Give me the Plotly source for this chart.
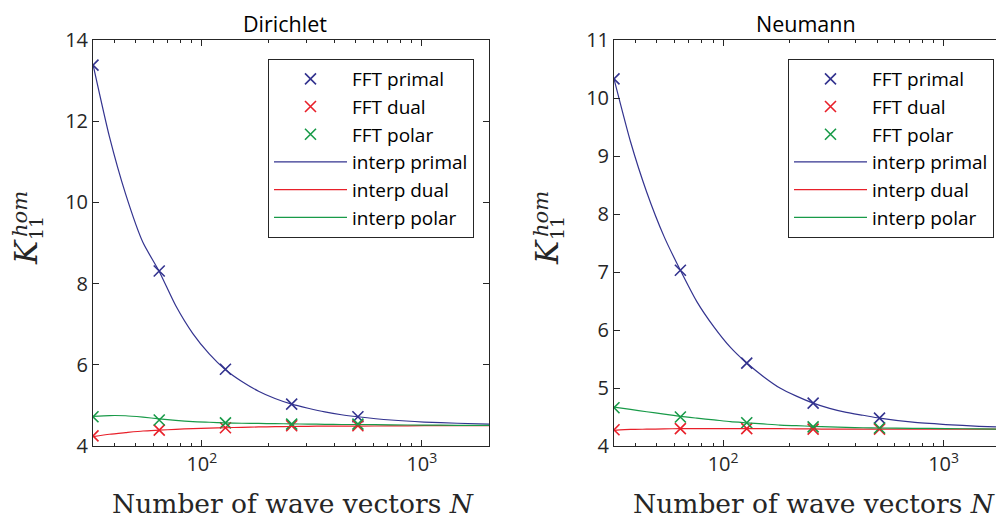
import plotly.graph_objects as go
from plotly.subplots import make_subplots
import math

# ---------------- data ----------------
N_pts = [32, 64, 128, 256, 512]

dir_primal = [13.38, 8.31, 5.89, 5.03, 4.72]
dir_dual = [4.25, 4.39, 4.45, 4.50, 4.50]
dir_polar = [4.72, 4.64, 4.57, 4.54, 4.54]

neu_primal = [10.33, 7.03, 5.43, 4.74, 4.48]
neu_dual = [4.28, 4.30, 4.30, 4.29, 4.29]
neu_polar = [4.66, 4.50, 4.40, 4.33, 4.31]

# interpolation curves
N_curve = [32, 38, 45, 54, 64, 76, 91, 108, 128, 152, 181, 215, 256,
           304, 362, 431, 512, 724, 1024, 1448, 2048]

dir_primal_curve = [13.40, 11.62, 10.21, 9.01, 8.30, 7.46, 6.77, 6.27, 5.88,
                    5.59, 5.35, 5.17, 5.03, 4.93, 4.84, 4.77, 4.72, 4.64,
                    4.59, 4.56, 4.54]
dir_dual_curve = [4.23, 4.29, 4.33, 4.37, 4.39, 4.41, 4.43, 4.44, 4.45,
                  4.46, 4.47, 4.475, 4.48, 4.485, 4.49, 4.49, 4.49, 4.495,
                  4.50, 4.50, 4.50]
dir_polar_curve = [4.73, 4.75, 4.745, 4.71, 4.67, 4.63, 4.60, 4.585, 4.57,
                   4.56, 4.555, 4.55, 4.545, 4.54, 4.535, 4.53, 4.53, 4.52,
                   4.515, 4.51, 4.51]

neu_primal_curve = [10.33, 9.25, 8.38, 7.61, 7.03, 6.49, 6.05, 5.70, 5.43,
                    5.20, 5.00, 4.86, 4.74, 4.65, 4.58, 4.53, 4.48, 4.41,
                    4.37, 4.34, 4.32]
neu_dual_curve = [4.27, 4.285, 4.29, 4.295, 4.30, 4.30, 4.30, 4.30, 4.30,
                  4.30, 4.30, 4.295, 4.295, 4.29, 4.29, 4.29, 4.29, 4.29,
                  4.29, 4.29, 4.29]
neu_polar_curve = [4.67, 4.63, 4.59, 4.55, 4.51, 4.48, 4.45, 4.42, 4.40,
                   4.38, 4.36, 4.35, 4.34, 4.33, 4.32, 4.315, 4.31, 4.305,
                   4.30, 4.295, 4.29]

titles = ["Dirichlet", "Neumann"]
series_names = ["primal", "dual", "polar"]
x_tick_vals = [100, 1000]
x_tick_text = ["10<sup>2</sup>", "10<sup>3</sup>"]
dir_y_ticks = [4, 6, 8, 10, 12, 14]
neu_y_ticks = [4, 5, 6, 7, 8, 9, 10, 11]

# ---------------- styling ----------------
colors = {"primal": "#33338f", "dual": "#e8202a", "polar": "#189a48"}
SANS = "Open Sans"
SERIF = "DejaVu Serif"
INK = "#262626"
WIN_W, WIN_H = 1004, 520
OFF = 8                      # default page (body) margin
W, H = WIN_W - OFF, WIN_H - OFF


def px(x):
    """screen pixel x -> paper fraction"""
    return (x - OFF) / W


def py(y):
    """screen pixel y -> paper fraction"""
    return 1 - (y - OFF) / H


fig = make_subplots(rows=1, cols=2)

panels = [
    (1, "legend", {"primal": (dir_primal, dir_primal_curve),
                   "dual": (dir_dual, dir_dual_curve),
                   "polar": (dir_polar, dir_polar_curve)}),
    (2, "legend2", {"primal": (neu_primal, neu_primal_curve),
                    "dual": (neu_dual, neu_dual_curve),
                    "polar": (neu_polar, neu_polar_curve)}),
]

for col, leg, data in panels:
    for s in series_names:
        fig.add_trace(go.Scatter(
            x=N_pts, y=data[s][0], mode="markers", name="FFT " + s,
            legend=leg, legendgroup=leg + "m" + s,
            marker=dict(symbol="x-thin", size=11, color=colors[s],
                        line=dict(width=1.6, color=colors[s])),
        ), row=1, col=col)
    for s in series_names:
        fig.add_trace(go.Scatter(
            x=N_curve, y=data[s][1], mode="lines", name="interp " + s,
            legend=leg, legendgroup=leg + "l" + s,
            line=dict(color=colors[s], width=1.2, shape="spline", smoothing=0.6),
        ), row=1, col=col)

# axis placement in screen pixels
LX0, LX1 = 93, 489
RX0 = 614
TOP, BOT = 40, 446
y_dom = [py(BOT), py(TOP)]
fig.update_layout(
    xaxis=dict(domain=[px(LX0), px(LX1)]),
    xaxis2=dict(domain=[px(RX0), 1.0]),
    yaxis=dict(domain=y_dom),
    yaxis2=dict(domain=y_dom),
)

axis_common = dict(
    showline=True, linecolor=INK, linewidth=1,
    ticks="inside", ticklen=6, tickcolor=INK, showgrid=False,
    zeroline=False, automargin=False,
    tickfont=dict(family=SANS, size=20, color=INK),
)

xr_left = [math.log10(32), math.log10(32) + (LX1 - LX0) / 220]
xr_right = [math.log10(32), math.log10(32) + (WIN_W - RX0) / 220.5]

fig.update_xaxes(type="log", tickvals=x_tick_vals, ticktext=x_tick_text,
                 mirror="ticks",
                 minor=dict(ticks="inside", ticklen=3, tickcolor=INK,
                            dtick="D1", showgrid=False),
                 **axis_common)
fig.update_xaxes(range=xr_left, row=1, col=1)
fig.update_xaxes(range=xr_right, row=1, col=2)

fig.update_yaxes(range=[4, 14], tickvals=dir_y_ticks, mirror="ticks",
                 row=1, col=1, **axis_common)
fig.update_yaxes(range=[4, 11], tickvals=neu_y_ticks, mirror=False,
                 row=1, col=2, **axis_common)

# text annotations: panel titles, axis titles
title_cx = [285, 806]
for t, cx in zip(titles, title_cx):
    fig.add_annotation(text=t, xref="paper", yref="paper", x=px(cx), y=py(23),
                       showarrow=False, xanchor="center", yanchor="middle",
                       font=dict(family=SANS, size=21.5, color="black"))

xt_cx = [293, 293 + (RX0 - LX0)]
for cx in xt_cx:
    fig.add_annotation(text="Number of wave vectors <i>N</i>", xref="paper",
                       yref="paper", x=px(cx), y=py(503), showarrow=False,
                       xanchor="center", yanchor="middle",
                       font=dict(family=SERIF, size=26.5, color=INK))

for ax0 in [LX0, RX0]:
    fig.add_annotation(text="<i>K</i>", xref="paper", yref="paper",
                       x=px(ax0 - 67), y=py(252), textangle=-90,
                       showarrow=False, xanchor="center", yanchor="middle",
                       font=dict(family=SERIF, size=31, color=INK))
    fig.add_annotation(text="<i>hom</i>", xref="paper", yref="paper",
                       x=px(ax0 - 73), y=py(214), textangle=-90,
                       showarrow=False, xanchor="center", yanchor="middle",
                       font=dict(family=SERIF, size=21, color=INK))
    fig.add_annotation(text="11", xref="paper", yref="paper",
                       x=px(ax0 - 57), y=py(228), textangle=-90,
                       showarrow=False, xanchor="center", yanchor="middle",
                       font=dict(family=SERIF, size=19, color=INK))

legend_style = dict(
    bordercolor=INK, borderwidth=1, bgcolor="white",
    font=dict(family=SANS, size=19, color="black"),
    xanchor="left", yanchor="top", itemwidth=73, tracegroupgap=0,
)
fig.update_layout(
    legend=dict(x=px(268), y=py(59), **legend_style),
    legend2=dict(x=px(788), y=py(59), **legend_style),
    width=W, height=H, margin=dict(l=0, r=0, t=0, b=0),
    plot_bgcolor="white", paper_bgcolor="white",
    showlegend=True,
)

fig.write_html("out.html")
